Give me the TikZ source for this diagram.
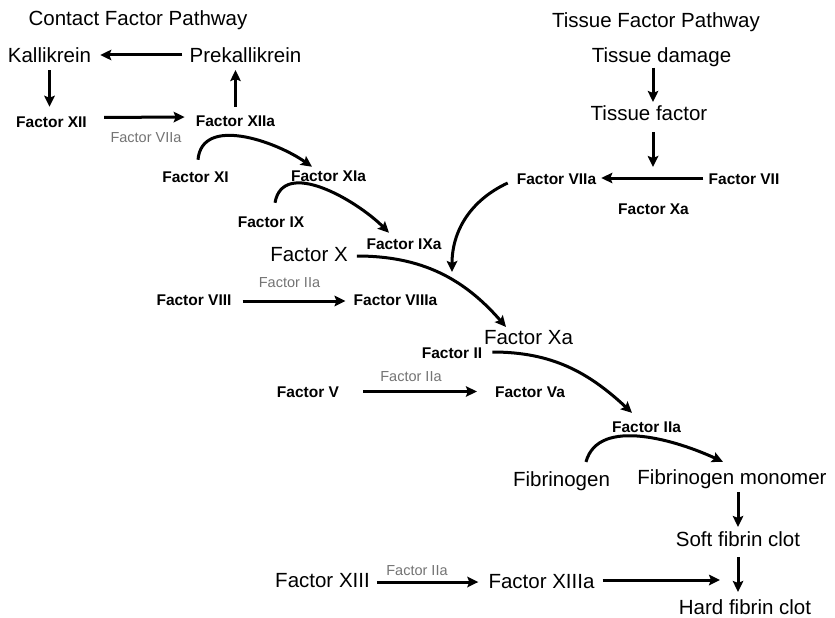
\documentclass[tikz,border=0pt]{standalone}
\usepackage{fontspec}
\setmainfont{Liberation Sans}
\usepackage{tikz}
\usetikzlibrary{arrows.meta}

\begin{document}
\begin{tikzpicture}[x=1pt, y=1pt]
    % Define styles
    \tikzstyle{bigtext} = [inner sep=0pt, text height=14.7pt, text depth=0pt, font=\fontsize{20.5}{24}\selectfont]
    \tikzstyle{factor} = [inner sep=0pt, text height=11.1pt, text depth=0pt, font=\fontsize{15.5}{18}\selectfont\bfseries]
    \tikzstyle{helper} = [inner sep=0pt, text height=10.4pt, text depth=0pt, text=black!55, font=\fontsize{14.5}{17}\selectfont]
    \tikzstyle{arrow} = [line width=3pt, -{Stealth[length=11pt,width=10.5pt,inset=2pt]}]

    \useasboundingbox (0,0) rectangle (835,-618);

    % Nodes
    \node [bigtext] (ctitle) at (138,-18) {Contact Factor Pathway};
    \node [bigtext] (ttitle) at (656,-20) {Tissue Factor Pathway};
    \node [bigtext] (kal) at (49.5,-55) {Kallikrein};
    \node [bigtext] (prekal) at (245.5,-55) {Prekallikrein};
    \node [factor] (f12) at (51.5,-121.5) {Factor XII};
    \node [factor] (f12a) at (235.5,-121) {Factor XIIa};
    \node [helper] (h7a) at (146,-137) {Factor VIIa};
    \node [factor] (f11) at (195.5,-176.5) {Factor XI};
    \node [factor] (f11a) at (328.5,-176) {Factor XIa};
    \node [factor] (f9) at (271,-221.5) {Factor IX};
    \node [factor] (f9a) at (404,-244) {Factor IXa};
    \node [bigtext] (f10) at (309,-254) {Factor X};
    \node [factor] (f8) at (194,-299.5) {Factor VIII};
    \node [helper] (h8) at (289.5,-282.5) {Factor IIa};
    \node [factor] (f8a) at (395.5,-299.5) {Factor VIIIa};
    \node [bigtext] (f10a) at (528.5,-337.5) {Factor Xa};
    \node [factor] (f2) at (452,-353) {Factor II};
    \node [factor] (f5) at (308,-391.5) {Factor V};
    \node [helper] (h5) at (411,-376) {Factor IIa};
    \node [factor] (f5a) at (530,-391.5) {Factor Va};
    \node [factor] (f2a) at (646.5,-427) {Factor IIa};
    \node [bigtext] (fbg) at (561.5,-479.5) {Fibrinogen};
    \node [bigtext] (fbgm) at (732,-477) {Fibrinogen monomer};
    \node [bigtext] (soft) at (738,-539) {Soft fibrin clot};
    \node [bigtext] (hard) at (745,-607.5) {Hard fibrin clot};
    \node [bigtext] (f13) at (322.5,-580.5) {Factor XIII};
    \node [helper] (h13) at (417,-570.5) {Factor IIa};
    \node [bigtext] (f13a) at (541.5,-581.5) {Factor XIIIa};
    \node [bigtext] (tdam) at (661.5,-55.5) {Tissue damage};
    \node [bigtext] (tfac) at (649,-113) {Tissue factor};
    \node [factor] (f7a) at (556.5,-179) {Factor VIIa};
    \node [factor] (f7) at (744,-179) {Factor VII};
    \node [factor] (fxa) at (653.5,-208.5) {Factor Xa};

    \coordinate (tenhit) at (452,-272);
    \coordinate (vhit) at (653,-180);
    \coordinate (clothit) at (738,-580);

    % Arrows
    \draw [arrow, shorten <=7pt, shorten >=9pt] (prekal.west) -- (kal.east);
    \draw [arrow, shorten <=7.5pt, shorten >=9pt] (kal.south) -- (kal.south |- f12.north);
    \draw [arrow, shorten <=17pt, shorten >=11pt] ([yshift=4pt]f12.east) -- ([yshift=4pt]f12a.west);
    \draw [arrow, shorten <=8.5pt, shorten >=7.5pt] (f12a.north) -- (f12a.north |- prekal.south);
    \draw [arrow] ([shift={(2.5,11)}]f11.north) to[out=85,in=145] ([shift={(-16.5,3.5)}]f11a.north);
    \draw [arrow] ([shift={(4,13)}]f9.north) to[out=80,in=135] ([shift={(-15,5.5)}]f9a.north);
    \draw [arrow] ([shift={(9,-2)}]f10.east) to[out=0,in=131] ([shift={(-22.5,3)}]f10a.north);
    \draw [arrow] ([shift={(-9,-4)}]f7a.west) to[out=205,in=90] (tenhit);
    \draw [arrow, shorten <=11pt, shorten >=8pt] ([yshift=-1.5pt]f8.east) -- ([yshift=-1.5pt]f8a.west);
    \draw [arrow] ([shift={(10,1)}]f2.east) to[out=0,in=137] ([shift={(-14.5,8.4)}]f2a.north);
    \draw [arrow, shorten <=24pt, shorten >=18pt] (f5.east) -- (f5a.west);
    \draw [arrow] ([shift={(24.5,10)}]fbg.north) to[out=75,in=155,looseness=0.9] ([shift={(-9,7.6)}]fbgm.north);
    \draw [arrow, shorten <=7.5pt, shorten >=4.5pt] (fbgm.south -| soft) -- (soft.north);
    \draw [arrow, shorten <=10.5pt, shorten >=8pt] (soft.south) -- (soft.south |- hard.north);
    \draw [arrow, shorten <=7pt, shorten >=10pt] ([yshift=-1.5pt]f13.east) -- ([yshift=-0.5pt]f13a.west);
    \draw [arrow, shorten <=8pt, shorten >=18pt] ([yshift=1.5pt]f13a.east) -- (clothit);
    \draw [arrow, shorten <=4.5pt, shorten >=3.5pt] ([xshift=-8.5pt]tdam.south) -- ([xshift=4pt]tfac.north);
    \draw [arrow, shorten <=11.5pt, shorten >=13pt] ([xshift=4pt]tfac.south) -- (vhit);
    \draw [arrow, shorten <=5pt, shorten >=5pt] ([yshift=1pt]f7.west) -- ([yshift=1pt]f7a.east);
\end{tikzpicture}
\end{document}
